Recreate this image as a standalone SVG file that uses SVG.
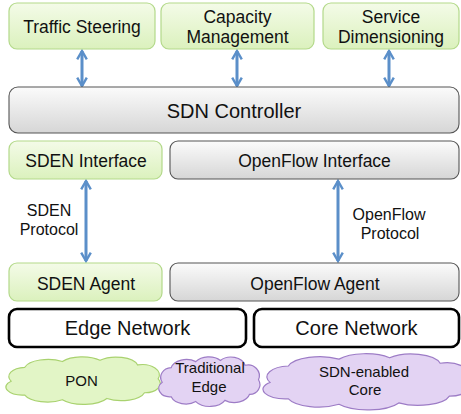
<svg xmlns="http://www.w3.org/2000/svg" width="461" height="414" viewBox="0 0 461 414">
<defs>
<linearGradient id="gGreen" x1="0" y1="0" x2="0" y2="1">
<stop offset="0" stop-color="#f4fbe8"/>
<stop offset="1" stop-color="#dbf1bd"/>
</linearGradient>
<linearGradient id="gGray" x1="0" y1="0" x2="0" y2="1">
<stop offset="0" stop-color="#fbfbfb"/>
<stop offset="1" stop-color="#d6d6d6"/>
</linearGradient>
<marker id="ah" viewBox="0 0 10 10" refX="8" refY="5" markerWidth="4" markerHeight="4" orient="auto-start-reverse">
<path d="M1,1 L8,5 L1,9" fill="none" stroke="#5b8fc9" stroke-width="2" stroke-linejoin="miter"/>
</marker>
<path id="cloud" d="M10,22 A10,8 0 0 1 18,10 A14,9 0 0 1 40,5 A14,9 0 0 1 62,4 A13,9 0 0 1 84,8 A10,9 0 0 1 96,20 A9,8 0 0 1 88,32 A14,9 0 0 1 66,37 A15,9 0 0 1 40,38 A14,9 0 0 1 18,34 A10,7 0 0 1 10,22 Z" vector-effect="non-scaling-stroke"/>
</defs>
<style>
text{font-family:"Liberation Sans",Arial,sans-serif;fill:#111;text-anchor:middle}
.green{fill:url(#gGreen);stroke:#b3d98a;stroke-width:1.2}
.gray{fill:url(#gGray);stroke:#555;stroke-width:1.1}
.net{fill:#fff;stroke:#000;stroke-width:2.6}
.cg{fill:#e2f5c6;stroke:#a9d26f;stroke-width:1.2}
.cp{fill:#e3d3f3;stroke:#9d7cc6;stroke-width:1.2}
.arr{stroke:#5b8fc9;stroke-width:3;fill:none;marker-start:url(#ah);marker-end:url(#ah)}
.t17{font-size:17.5px}
.t20{font-size:20px}
.t16{font-size:16px}
.t15{font-size:15px}
</style>
<g id="connectors">
<line class="arr" x1="82" y1="51" x2="82" y2="86"/>
<line class="arr" x1="237" y1="51" x2="237" y2="86"/>
<line class="arr" x1="389" y1="51" x2="389" y2="86"/>
<line class="arr" x1="86" y1="181" x2="86" y2="261"/>
<line class="arr" x1="338" y1="181" x2="338" y2="261"/>
</g>
<g id="traffic-steering"><rect class="green" x="9" y="3" width="146" height="46" rx="8"/><text class="t17" x="82" y="33">Traffic Steering</text></g>
<g id="capacity-management"><rect class="green" x="161" y="3" width="153" height="46" rx="8"/><text class="t17" x="237.5" y="23">Capacity</text><text class="t17" x="237.5" y="43">Management</text></g>
<g id="service-dimensioning"><rect class="green" x="323" y="3" width="136" height="46" rx="8"/><text class="t17" x="391" y="23">Service</text><text class="t17" x="391" y="43">Dimensioning</text></g>
<g id="sdn-controller"><rect class="gray" x="9" y="87" width="450" height="46" rx="9"/><text class="t20" x="234" y="118">SDN Controller</text></g>
<g id="sden-interface"><rect class="green" x="9" y="141" width="153" height="38" rx="8"/><text class="t17" x="86" y="167">SDEN Interface</text></g>
<g id="openflow-interface"><rect class="gray" x="170" y="141" width="289" height="38" rx="8"/><text class="t17" x="314.5" y="167">OpenFlow Interface</text></g>
<g id="sden-protocol"><text class="t16" x="49" y="216">SDEN</text><text class="t16" x="49" y="235">Protocol</text></g>
<g id="openflow-protocol"><text class="t16" x="389" y="220">OpenFlow</text><text class="t16" x="390" y="239">Protocol</text></g>
<g id="sden-agent"><rect class="green" x="9" y="263" width="153" height="38" rx="8"/><text class="t17" x="86" y="290">SDEN Agent</text></g>
<g id="openflow-agent"><rect class="gray" x="170" y="263" width="289" height="38" rx="8"/><text class="t17" x="315" y="290">OpenFlow Agent</text></g>
<g id="edge-network"><rect class="net" x="9" y="309" width="237" height="38" rx="8"/><text class="t20" x="127.5" y="335">Edge Network</text></g>
<g id="core-network"><rect class="net" x="254" y="309" width="205" height="38" rx="8"/><text class="t20" x="356.5" y="335">Core Network</text></g>
<g id="pon"><use href="#cloud" class="cg" transform="translate(-6,355.7) scale(1.71,1.158)"/><text class="t15" x="81.5" y="386">PON</text></g>
<g id="traditional-edge"><use href="#cloud" class="cp" transform="translate(151,355.6) scale(1.12,1.21)"/><text class="t15" x="210" y="373">Traditional</text><text class="t15" x="209" y="392">Edge</text></g>
<g id="sdn-enabled-core"><use href="#cloud" class="cp" transform="translate(247,352.3) scale(2.3,1.368)"/><text class="t15" x="364" y="377">SDN-enabled</text><text class="t15" x="365" y="395">Core</text></g>
</svg>
